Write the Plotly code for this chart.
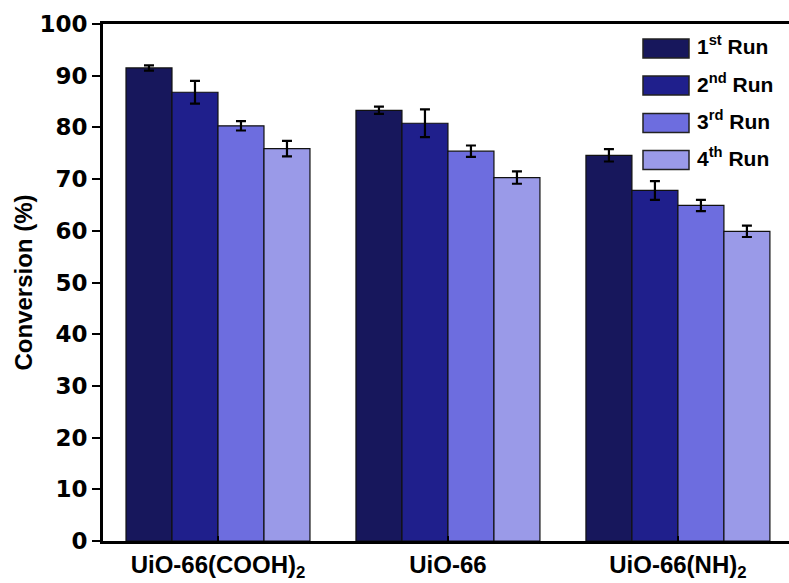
import plotly.graph_objects as go

categories = ["UiO-66(COOH)<sub>2</sub>", "UiO-66", "UiO-66(NH)<sub>2</sub>"]
run_names = ["1<sup>st</sup> Run", "2<sup>nd</sup> Run", "3<sup>rd</sup> Run", "4<sup>th</sup> Run"]
run1 = [91.5, 83.3, 74.6]
run1_err = [0.5, 0.7, 1.2]
run2 = [86.8, 80.8, 67.8]
run2_err = [2.2, 2.7, 1.8]
run3 = [80.3, 75.4, 64.9]
run3_err = [0.9, 1.1, 1.1]
run4 = [75.9, 70.3, 59.9]
run4_err = [1.5, 1.2, 1.1]
colors = ["#17175c", "#1f1f8c", "#6d6ddf", "#9a9ae8"]
y_ticks = [0, 10, 20, 30, 40, 50, 60, 70, 80, 90, 100]

values = [run1, run2, run3, run4]
errors = [run1_err, run2_err, run3_err, run4_err]

wide_font = "DejaVu Sans, sans-serif"
arial = "Liberation Sans, Arial, sans-serif"
fig = go.Figure()
xs = list(range(len(categories)))
for name, vals, errs, col in zip(run_names, values, errors, colors):
    fig.add_trace(go.Bar(
        x=xs, y=vals, name=name,
        marker=dict(color=col, line=dict(color="#111111", width=1.2)),
        error_y=dict(type="data", array=errs, visible=True, color="black", thickness=2.2, width=5),
        showlegend=False,
    ))

# custom legend (boxes + labels)
W, H = 789, 583
ml, mt, mb = 103, 24, 42
pw, ph = W - ml, H - mt - mb
def px_x(p):
    return (p - ml) / pw
def px_y(p):
    return (H - mb - p) / ph
legend_centers = [48.5, 85.5, 123, 160]
shapes = []
annotations = []
for name, col, cy in zip(run_names, colors, legend_centers):
    shapes.append(dict(type="rect", xref="paper", yref="paper",
                       x0=px_x(643), x1=px_x(689), y0=px_y(cy + 9.5), y1=px_y(cy - 9.5),
                       fillcolor=col, line=dict(color="#222222", width=1.5)))
    annotations.append(dict(xref="paper", yref="paper", x=px_x(695), y=px_y(cy - 3),
                            xanchor="left", yanchor="middle", text="<b>" + name + "</b>",
                            showarrow=False, font=dict(family=arial, size=21, color="black")))

fig.update_layout(
    width=W, height=H,
    margin=dict(l=ml, r=0, t=mt, b=mb, autoexpand=False),
    plot_bgcolor="white", paper_bgcolor="white",
    barmode="group", bargap=0.2, bargroupgap=0,
    shapes=shapes, annotations=annotations,
    font=dict(family=arial, color="black"),
)
fig.update_xaxes(
    range=[-0.5, 2.483], tickvals=xs, ticktext=["<b>" + c + "</b>" for c in categories],
    tickfont=dict(size=24, family=arial, color="black"),
    showline=True, linecolor="black", linewidth=3, mirror=True,
    ticks="inside", ticklen=5, tickwidth=2, tickcolor="black",
    showgrid=False, zeroline=False, automargin=False,
)
fig.update_yaxes(
    range=[0, 100], tickvals=y_ticks, ticktext=["<b>%d</b>" % t for t in y_ticks],
    tickfont=dict(size=23, family=wide_font, color="black"),
    showline=True, linecolor="black", linewidth=3, mirror=False,
    ticks="outside", ticklen=8, tickwidth=2, tickcolor="black",
    showgrid=False, zeroline=False, automargin=False,
    title=dict(text="<b>Conversion (%)</b>", font=dict(size=24, family=arial, color="black"), standoff=0),
)
fig.write_html(
    "out.html",
    config={"displayModeBar": False},
    post_script="document.body.style.margin='0';document.body.style.padding='0';document.body.style.overflow='hidden';",
)
